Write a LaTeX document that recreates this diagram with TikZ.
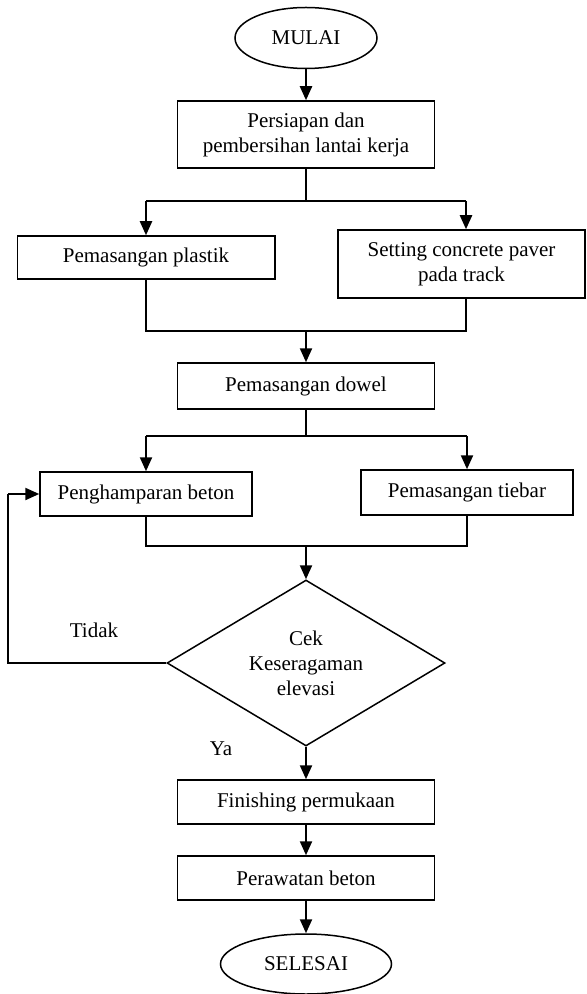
\documentclass[tikz,border=0pt]{standalone}
\usepackage{fontspec}
\setmainfont{Liberation Serif}
\usepackage{tikz}
\usetikzlibrary{arrows.meta,shapes.geometric,positioning}

\begin{document}
\begin{tikzpicture}[x=0.5pt, y=-0.5pt, font=\fontsize{10.5}{12.5}\selectfont,
        kotak/.style={draw, rectangle, align=center, line width=0.75pt, inner sep=1pt},
        oval/.style={draw, ellipse, line width=0.75pt, inner sep=0pt},
        cabang/.style={draw, diamond, align=center, line width=0.75pt, aspect=1.67, inner sep=1pt},
        garis/.style={line width=0.65pt},
        panah/.style={line width=1.1pt, -{Triangle[width=6pt,length=7pt]}}]
        \useasboundingbox (0,0) rectangle (587,994);
        \node[oval, minimum width=71pt, minimum height=30.5pt] (mulai) at (306,38) {MULAI};
        \node[kotak, minimum width=128.5pt, minimum height=33.5pt] (persiapan) at (306,134.5) {Persiapan dan\\pembersihan lantai kerja};
        \node[kotak, minimum width=128.75pt, minimum height=21.5pt] (plastik) at (146,257.5) {Pemasangan plastik};
        \node[kotak, minimum width=123.5pt, minimum height=34pt] (paver) at (461.5,264) {Setting concrete paver\\pada track};
        \node[kotak, minimum width=128.5pt, minimum height=23pt] (dowel) at (306,386) {Pemasangan dowel};
        \node[kotak, minimum width=106pt, minimum height=22pt] (hampar) at (146,494) {Penghamparan beton};
        \node[kotak, minimum width=106pt, minimum height=22.5pt] (tiebar) at (467,492.5) {Pemasangan tiebar};
        \node[cabang, minimum width=139pt, minimum height=83pt] (cek) at (306,663) {Cek\\Keseragaman\\elevasi};
        \node[kotak, minimum width=128.5pt, minimum height=22pt] (finishing) at (306,802) {Finishing permukaan};
        \node[kotak, minimum width=128.5pt, minimum height=22pt] (perawatan) at (306,878) {Perawatan beton};
        \node[oval, minimum width=85.5pt, minimum height=30pt] (selesai) at (306,964) {SELESAI};
        \node (tidak) at (94,630) {Tidak};
        \node (ya) at (221,749) {Ya};

        % percabangan dan penggabungan
        \coordinate (bagi1) at (306,201);
        \coordinate (bagi1r) at (466,201);
        \coordinate (gabung1) at (306,331);
        \coordinate (bagi2) at (306,436);
        \coordinate (gabung2) at (306,546);
        \coordinate (balik) at (8,494);

        \draw[panah] (mulai) -- (persiapan);
        \draw[garis] (persiapan) -- (bagi1);
        \draw[garis] (plastik.north |- bagi1) -- (bagi1r);
        \draw[panah] (plastik.north |- bagi1) -- (plastik);
        \draw[panah] (bagi1r) -- (bagi1r |- paver.north);
        \draw[garis] (plastik) |- (gabung1) -| (bagi1r |- paver.south);
        \draw[panah] (gabung1) -- (dowel);
        \draw[garis] (dowel) -- (bagi2);
        \draw[garis] (hampar.north |- bagi2) -- (tiebar.north |- bagi2);
        \draw[panah] (hampar.north |- bagi2) -- (hampar);
        \draw[panah] (tiebar.north |- bagi2) -- (tiebar);
        \draw[garis] (hampar) |- (gabung2) -| (tiebar);
        \draw[panah] (gabung2) -- (cek);
        \draw[garis] (cek.west) -| (balik);
        \draw[panah] (balik) -- (hampar);
        \draw[panah] (cek) -- (finishing);
        \draw[panah] (finishing) -- (perawatan);
        \draw[panah] (perawatan) -- (selesai);
    \end{tikzpicture}
\end{document}
